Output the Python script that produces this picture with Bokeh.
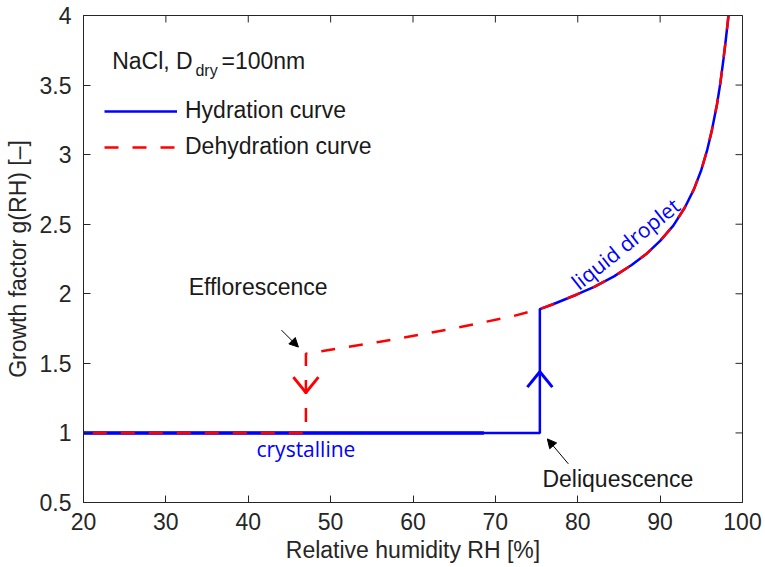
from bokeh.plotting import figure
from bokeh.models import (Range1d, SingleIntervalTicker, NumeralTickFormatter,
                          Label, Arrow, NormalHead, Legend, LegendItem)
from bokeh.embed import file_html
from bokeh.resources import INLINE
import math

# ---------------- data ----------------
# crystalline (dry) branch on hydration
dry_rh = [20.0, 75.4]
dry_g = [1.0, 1.0]
# thicker-looking part of the crystalline hydration line
dry_thick_rh = [20.0, 68.6]
dry_thick_g = [1.0, 1.0]
# liquid droplet branch (shared by both curves)
liquid_rh = [75.4, 77.0, 79.9, 82.0, 84.4, 86.5, 88.4, 90.0, 91.6, 93.0, 94.1,
             95.0, 95.7, 96.3, 96.9, 97.3, 97.7, 98.0, 98.3]
liquid_g = [1.89, 1.925, 1.995, 2.05, 2.125, 2.205, 2.29, 2.38, 2.49, 2.62, 2.75,
            2.89, 3.03, 3.18, 3.36, 3.51, 3.69, 3.84, 4.00]
# metastable (supersaturated) branch on dehydration
meta_rh = [47.0, 56.0, 65.3, 72.2, 75.4]
meta_g = [1.57, 1.655, 1.755, 1.84, 1.89]
# efflorescence drop
efflo_rh = [47.0, 47.0, 20.0]
efflo_g = [1.57, 1.0, 1.0]

hyd_rh = dry_rh + liquid_rh
hyd_g = dry_g + liquid_g
deh_rh = liquid_rh[::-1] + meta_rh[::-1][1:] + efflo_rh[1:]
deh_g = liquid_g[::-1] + meta_g[::-1][1:] + efflo_g[1:]

# tick values
x_ticks = [20, 30, 40, 50, 60, 70, 80, 90, 100]
y_ticks = [0.5, 1.0, 1.5, 2.0, 2.5, 3.0, 3.5, 4.0]

# direction arrows (tip position, +1 = up, -1 = down)
dir_tip_rh = [75.4, 47.0]
dir_tip_g = [1.44, 1.29]
dir_sign = [1, -1]
dir_color = ["#0000FF", "#FF0000"]
ARM_DX = 1.52
ARM_DY = 0.111

FONT = "Liberation Sans"
FS = "23px"
DARK = "#262626"
TXT = "#1a1a1a"

p = figure(frame_width=659, frame_height=487, x_range=Range1d(20, 100), y_range=Range1d(0.5, 4),
           output_backend="svg", toolbar_location=None,
           min_border_left=83, min_border_right=23, min_border_top=15, min_border_bottom=65)
p.xgrid.visible = False
p.ygrid.visible = False
p.outline_line_color = DARK
p.background_fill_color = "white"
p.border_fill_color = "white"

xax = p.below[0]
yax = p.left[0]
xax.ticker = SingleIntervalTicker(interval=10)
yax.ticker = SingleIntervalTicker(interval=0.5)
yax.formatter = NumeralTickFormatter(format="0.[0]")
xax.axis_label = "Relative humidity RH [%]"
yax.axis_label = "Growth factor g(RH) [\u2013]"

for ax in [xax, yax]:
    ax.major_tick_in = 7
    ax.major_tick_out = 0
    ax.minor_tick_line_color = None
    ax.axis_line_color = DARK
    ax.major_tick_line_color = DARK
    ax.major_label_text_font = FONT
    ax.major_label_text_font_size = FS
    ax.major_label_text_color = DARK
    ax.axis_label_text_font = FONT
    ax.axis_label_text_font_size = FS
    ax.axis_label_text_font_style = "normal"
    ax.axis_label_text_color = DARK
xax.major_label_standoff = 6
xax.axis_label_standoff = 4
yax.major_label_standoff = 8
yax.axis_label_standoff = 6

# inward ticks on top and right edges (half of each dash is clipped by the frame)
p.scatter(x=x_ticks, y=[4.0] * len(x_ticks), marker="dash", angle=math.pi / 2,
          size=14, line_color=DARK, line_width=1)
p.scatter(x=[100.0] * len(y_ticks), y=y_ticks, marker="dash",
          size=14, line_color=DARK, line_width=1)

# curves
r_hyd = p.line(hyd_rh, hyd_g, line_color="#0000FF", line_width=2.5)
p.line(dry_thick_rh, dry_thick_g, line_color="#0000FF", line_width=3.5)
r_deh = p.line(deh_rh, deh_g, line_color="#FF0000", line_width=2.5, line_dash="14 14")

# direction arrowheads (open V)
x0s, y0s, x1s, y1s, cols = [], [], [], [], []
for tx, ty, s, c in zip(dir_tip_rh, dir_tip_g, dir_sign, dir_color):
    for side in (-1, 1):
        x0s.append(tx + side * ARM_DX)
        y0s.append(ty - s * ARM_DY)
        x1s.append(tx)
        y1s.append(ty)
        cols.append(c)
p.segment(x0=x0s, y0=y0s, x1=x1s, y1=y1s, line_color=cols, line_width=3)

# annotation arrows
p.add_layout(Arrow(x_start=44.03, y_start=1.739, x_end=46.09, y_end=1.617,
                   line_color="black", line_width=1,
                   end=NormalHead(size=9, fill_color="black", line_color="black")))
p.add_layout(Arrow(x_start=78.86, y_start=0.778, x_end=76.31, y_end=0.957,
                   line_color="black", line_width=1,
                   end=NormalHead(size=9, fill_color="black", line_color="black")))

def lab(x, y, t, align="left", size=FS, color=TXT, font=FONT, angle=0.0,
        baseline="alphabetic"):
    p.add_layout(Label(x=x, y=y, text=t, text_align=align, text_baseline=baseline,
                       text_font=font, text_font_size=size, text_color=color,
                       angle=angle, angle_units="rad"))

lab(41.2, 2.048, "Efflorescence", align="center")
lab(84.87, 0.670, "Deliquescence", align="center")
lab(47.0, 0.888, "crystalline", align="center", size="21px", color="#0000FF", font="Open Sans")
lab(85.8, 2.36, "liquid droplet", align="center", size="21px", color="#0000FF",
    font="Open Sans", angle=0.674, baseline="middle")

# legend title with subscript
lab(23.48, 3.674, "NaCl, D")
lab(33.59, 3.602, "dry", size="16px")
lab(36.75, 3.674, "=100nm")

legend = Legend(items=[LegendItem(label="Hydration curve", renderers=[r_hyd]),
                       LegendItem(label="Dehydration curve", renderers=[r_deh])],
                location=(21, 342), padding=0, margin=0, spacing=9,
                glyph_width=73, glyph_height=22, label_height=22, label_standoff=8,
                label_text_font=FONT, label_text_font_size=FS, label_text_color=TXT,
                border_line_color=None, background_fill_alpha=0)
p.add_layout(legend)

open("out.html", "w").write(file_html(p, INLINE))
